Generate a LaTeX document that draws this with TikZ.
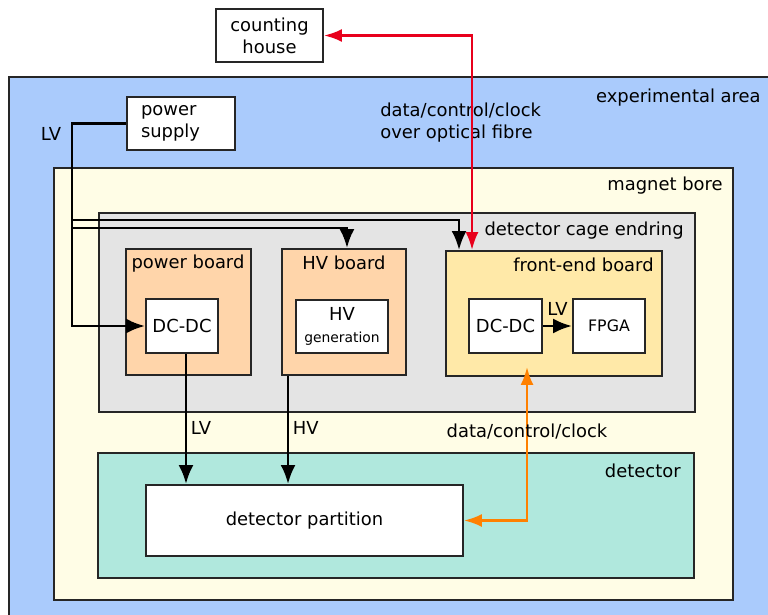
\documentclass[tikz,border=0pt]{standalone}
\usepackage{fontspec}
\setmainfont{DejaVu Sans}
\usetikzlibrary{arrows.meta, positioning, fit}
\definecolor{area-blue}{RGB}{170,203,252}
\definecolor{bore-cream}{RGB}{255,253,230}
\definecolor{cage-gray}{RGB}{228,228,228}
\definecolor{board-peach}{RGB}{255,213,170}
\definecolor{fe-yellow}{RGB}{255,233,168}
\definecolor{det-teal}{RGB}{176,232,221}
\definecolor{fibre-red}{RGB}{232,0,28}
\definecolor{link-orange}{RGB}{255,128,0}

\begin{document}
\begin{tikzpicture}[
  x=0.02cm, y=-0.02cm,
  font=\fontsize{10.2}{12.5}\selectfont,
  area/.style={draw=black!85, line width=1.1pt, inner sep=0pt},
  box/.style={rectangle, draw=black!85, fill=white, line width=1.1pt,
              minimum height=1.07cm, align=center, inner sep=2pt},
  arr/.style={-{Latex[length=0.38cm, width=0.3cm]}, line width=1.6pt},
  dbl/.style={{Latex[length=0.36cm, width=0.26cm]}-{Latex[length=0.36cm, width=0.26cm]},
              line width=1.4pt},
  lbl/.style={inner sep=0pt}
]
  \useasboundingbox (0,0) rectangle (768,615);

  % nested areas
  \node[area, fill=area-blue,   fit={(9,77) (775,625)}]    (exp)  {};
  \node[area, fill=bore-cream,  fit={(54,168) (733,600)}]  (bore) {};
  \node[area, fill=cage-gray,   fit={(99,213) (695,412)}]  (cage) {};
  \node[area, fill=board-peach, fit={(126,249) (251,375)}] (pwb)  {};
  \node[area, fill=board-peach, fit={(282,249) (406,375)}] (hvb)  {};
  \node[area, fill=fe-yellow,   fit={(446,251) (662,376)}] (feb)  {};
  \node[area, fill=det-teal,    fit={(98,453) (694,578)}]  (det)  {};

  \node[lbl, anchor=east] (explbl)  at (761,98)  {experimental area};
  \node[lbl, anchor=east] (borelbl) at (723,186) {magnet bore};
  \node[lbl, anchor=east] (cagelbl) at (684,231) {detector cage endring};
  \node[lbl]              (pwblbl)  at (188,264) {power board};
  \node[lbl]              (hvblbl)  at (344,263) {HV board};
  \node[lbl, anchor=east] (feblbl)  at (654,265) {front-end board};
  \node[lbl, anchor=east] (detlbl)  at (681,471) {detector};

  % boxes
  \node[box, minimum width=2.14cm] (ch) at (269.5,35.5) {counting\\house};
  \node[box, text width=1.6cm, inner xsep=0.28cm, align=left] (ps) at (181,123.5) {power\\supply};
  \node[box, minimum width=1.44cm, minimum height=1.08cm] (pdc)  at (182,326)   {DC-DC};
  \node[box, minimum width=1.84cm, minimum height=1.06cm] (hvgen) at (342,326.5)
       {HV\\\fontsize{7.9}{9}\selectfont generation};
  \node[box, minimum width=1.46cm, minimum height=1.08cm] (fdc)  at (505.5,326) {DC-DC};
  \node[box, minimum width=1.44cm, minimum height=1.08cm,
        font=\fontsize{9}{11}\selectfont]                 (fpga) at (609,326)   {FPGA};
  \node[box, minimum width=6.34cm, minimum height=1.42cm] (part) at (304.5,520.5) {detector partition};

  \node[lbl] (lvlbl) at (51,134) {LV};
  \node[lbl, anchor=west, align=left] (fibrelbl) at (380,123) {data/control/clock\\over optical fibre};

  % connectors
  \coordinate (lvbus) at (72,220);
  \coordinate (hvbus) at (72,228);
  \coordinate (lvdown) at ([xshift=0.08cm]pdc.south);
  \coordinate (hvdown) at ([xshift=0.14cm]hvb.south west);
  \coordinate (fibrein) at ([xshift=0.54cm]feb.north west);
  \coordinate (linkin) at ([xshift=1.64cm, yshift=0.2cm]feb.south west);

  \draw[arr] (ps.west) -| (lvbus |- pdc.west) -- (pdc.west);
  \draw[arr] (lvbus) -| ([xshift=0.28cm]feb.north west);
  \draw[arr] (hvbus) -| ([xshift=0.06cm]hvb.north);
  \draw[arr] (fdc) -- node[above, lbl, yshift=5pt] (lvfe) {LV} (fpga);
  \draw[arr] (lvdown) -- node[pos=0.57, right, lbl, xshift=2pt] (lvdet) {LV} (lvdown |- part.north);
  \draw[arr] (hvdown) -- node[pos=0.48, right, lbl, xshift=2pt] (hvdet) {HV} (hvdown |- part.north);

  \draw[dbl, fibre-red] (ch.east) -| (fibrein);
  \draw[dbl, link-orange] (part.east) -| node[pos=0.79, lbl, text=black] (linklbl) {data/control/clock} (linkin);
\end{tikzpicture}
\end{document}
